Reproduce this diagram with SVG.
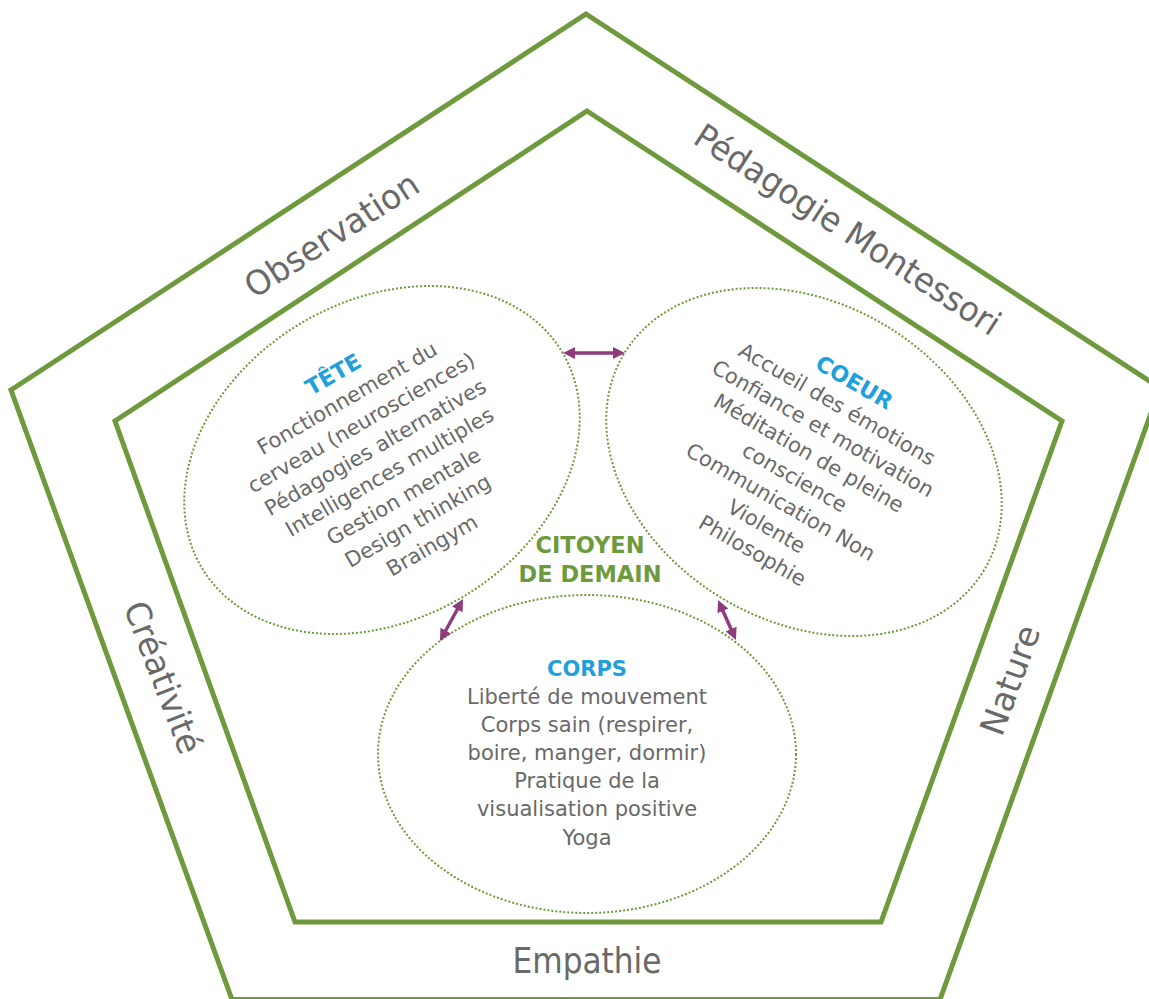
<svg xmlns="http://www.w3.org/2000/svg" width="1149" height="999" viewBox="0 0 1149 999">
<defs>
<style>
.frame{fill:none;stroke:#6e9a3d;stroke-width:5;stroke-linejoin:miter}
.bubble{fill:none;stroke:#6e9a3d;stroke-width:2;stroke-dasharray:2 2}
.lbl{font-family:'DejaVu Sans',sans-serif;font-size:34px;fill:#696969;text-anchor:middle}
.item{font-family:'DejaVu Sans',sans-serif;font-size:21px;fill:#696969;text-anchor:middle}
.ttl{font-family:'DejaVu Sans',sans-serif;font-size:22px;font-weight:bold;fill:#1fa0dc;text-anchor:middle}
.ctr{font-family:'DejaVu Sans',sans-serif;font-size:22.5px;font-weight:bold;fill:#6e9a3d;text-anchor:middle}
.link{stroke:#8e3c7e;stroke-width:3.5;fill:none;marker-start:url(#ah);marker-end:url(#ah)}
</style>
<marker id="ah" viewBox="0 0 12 12" markerWidth="12" markerHeight="12" refX="4" refY="6" orient="auto-start-reverse" markerUnits="userSpaceOnUse"><path d="M0,0 L12,6 L0,12 z" fill="#8e3c7e"/></marker>
</defs>
<rect x="0" y="0" width="1149" height="999" fill="#ffffff"/>

<g id="outer-frame">
<polygon class="frame" points="586,14 1160,388 940,999.5 232,999.5 11,390"/>
<text class="lbl" transform="translate(331,234) rotate(-33)" x="0" y="13" textLength="200" lengthAdjust="spacingAndGlyphs">Observation</text>
<text class="lbl" transform="translate(846,232) rotate(33)" x="0" y="9" textLength="357" lengthAdjust="spacingAndGlyphs">Pédagogie Montessori</text>
<text class="lbl" transform="translate(164,677) rotate(69)" x="0" y="13" textLength="160" lengthAdjust="spacingAndGlyphs">Créativité</text>
<text class="lbl" transform="translate(1010,680) rotate(-70)" x="0" y="12" textLength="114" lengthAdjust="spacingAndGlyphs">Nature</text>
<text class="lbl" x="587" y="973" style="font-size:36px" textLength="149" lengthAdjust="spacingAndGlyphs">Empathie</text>
</g>

<g id="inner-frame">
<polygon class="frame" points="587,111 1062,421 881,922 295,922 115,421"/>
</g>

<g id="tete">
<ellipse class="bubble" cx="382" cy="460" rx="210" ry="159" transform="rotate(-31 382 460)"/>
<g transform="translate(333,374) rotate(-30)">
<text class="ttl" x="0" y="8">TÊTE</text>
<text class="item" x="0" y="35.3">Fonctionnement du</text>
<text class="item" x="0" y="63.6">cerveau (neurosciences)</text>
<text class="item" x="0" y="91.9">Pédagogies alternatives</text>
<text class="item" x="0" y="120.2">Intelligences multiples</text>
<text class="item" x="0" y="148.5">Gestion mentale</text>
<text class="item" x="0" y="176.8">Design thinking</text>
<text class="item" x="0" y="205.1">Braingym</text>
</g>
</g>

<g id="coeur">
<ellipse class="bubble" cx="804" cy="462" rx="210" ry="159" transform="rotate(31 804 462)"/>
<g transform="translate(851,380) rotate(30)">
<text class="ttl" x="4" y="8">COEUR</text>
<text class="item" x="0" y="35.2">Accueil des émotions</text>
<text class="item" x="0" y="63.4">Confiance et motivation</text>
<text class="item" x="0" y="91.6">Méditation de pleine</text>
<text class="item" x="0" y="119.8">conscience</text>
<text class="item" x="0" y="148">Communication Non</text>
<text class="item" x="0" y="176.2">Violente</text>
<text class="item" x="0" y="204.4">Philosophie</text>
</g>
</g>

<g id="corps">
<ellipse class="bubble" cx="587" cy="754" rx="209" ry="159"/>
<text class="ttl" x="587" y="676" style="font-size:21px">CORPS</text>
<text class="item" x="587" y="704">Liberté de mouvement</text>
<text class="item" x="587" y="732">Corps sain (respirer,</text>
<text class="item" x="587" y="760">boire, manger, dormir)</text>
<text class="item" x="587" y="788">Pratique de la</text>
<text class="item" x="587" y="816">visualisation positive</text>
<text class="item" x="587" y="845">Yoga</text>
</g>

<g id="citoyen">
<text class="ctr" x="590" y="553">CITOYEN</text>
<text class="ctr" x="590" y="582">DE DEMAIN</text>
</g>

<g id="connectors">
<line class="link" x1="571" y1="353" x2="617" y2="353"/>
<line class="link" x1="459.2" y1="606" x2="443.8" y2="634"/>
<line class="link" x1="721.3" y1="607.3" x2="732.7" y2="632.7"/>
</g>
</svg>
